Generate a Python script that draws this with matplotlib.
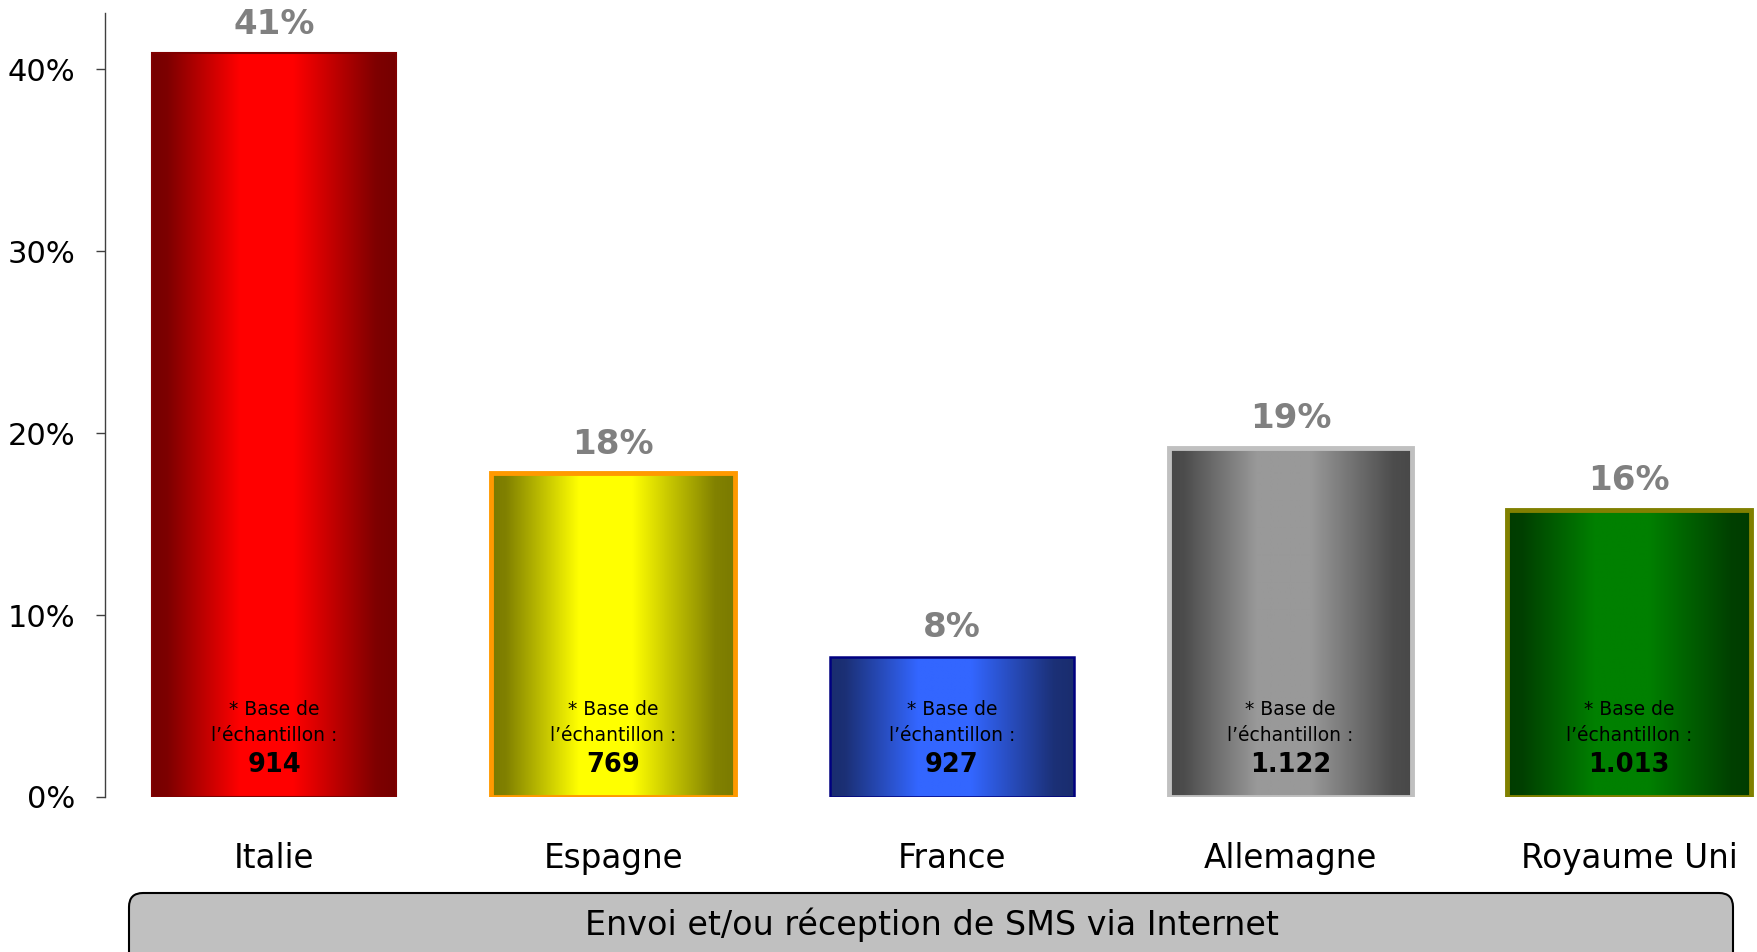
import numpy as np
import matplotlib
matplotlib.use("Agg")
import matplotlib.pyplot as plt
from matplotlib.patches import FancyBboxPatch
from matplotlib.transforms import IdentityTransform
from matplotlib.colors import to_rgb

# ---- data -------------------------------------------------------------
countries = ["Italie", "Espagne", "France", "Allemagne", "Royaume Uni"]
shares    = [40.9, 17.8, 7.7, 19.2, 15.8]          # % of respondents
bases     = ["914", "769", "927", "1.122", "1.013"]  # sample sizes
yticks    = [0, 10, 20, 30, 40]
caption   = "Envoi et/ou réception de SMS via Internet"

# ---- style ------------------------------------------------------------
# (dark edge colour, bright centre colour, border colour, border width)
BAR_STYLE = [
    ("#760000", "#ff0000", "#800000", 1.5),
    ("#7a7a00", "#ffff00", "#ff9900", 3.5),
    ("#1a2d6e", "#3366ff", "#000080", 1.8),
    ("#484848", "#999999", "#c0c0c0", 3.5),
    ("#003c00", "#008000", "#808000", 3.5),
]
GRAY_LABEL = "#808080"

plt.rcParams["font.family"] = ["DejaVu Sans"]

W, H, DPI = 1758, 952, 100
fig = plt.figure(figsize=(W / DPI, H / DPI), dpi=DPI)
fig.patch.set_facecolor("white")

ax_l, ax_b, ax_t = 105 / W, 1 - 797 / H, 1 - 13 / H
ax = fig.add_axes([ax_l, ax_b, 1 - ax_l, ax_t - ax_b])

x = np.arange(len(countries))
width = 0.72

# horizontal shading profile: dark edges, bright centre
prof_x = np.linspace(0, 1, 256)
prof = np.interp(prof_x, [0, 0.06, 0.36, 0.58, 0.92, 1.0],
                         [0.0, 0.05, 1.0, 1.0, 0.06, 0.0])

bars = ax.bar(x, shares, width=width, zorder=2)
for bar, (dark, bright, edge, lw), share, base in zip(bars, BAR_STYLE, shares, bases):
    d, b = np.array(to_rgb(dark)), np.array(to_rgb(bright))
    grad = (d[None, :] + prof[:, None] * (b - d)[None, :])[None, :, :]
    x0 = bar.get_x()
    x1 = x0 + bar.get_width()
    bar.set_facecolor("none")
    bar.set_edgecolor(edge)
    bar.set_linewidth(lw)
    bar.set_zorder(3)
    im = ax.imshow(grad, extent=(x0, x1, 0, share), aspect="auto",
                   origin="lower", zorder=2, interpolation="bilinear")
    im.set_clip_path(bar)

    cx = x0 + bar.get_width() / 2
    ax.annotate(f"{round(share)}%", (cx, share), xytext=(0, 9),
                textcoords="offset points", ha="center", va="bottom",
                fontsize=24.5, fontweight="bold", color=GRAY_LABEL)
    ax.text(cx, 4.8, "* Base de", ha="center", va="center", fontsize=13.5, zorder=4)
    ax.text(cx, 3.4, "l’échantillon :", ha="center", va="center", fontsize=13.5, zorder=4)
    ax.text(cx, 1.75, base, ha="center", va="center", fontsize=18.5,
            fontweight="bold", zorder=4)

for xi, name in zip(x, countries):
    ax.annotate(name, (xi, 0), xycoords=("data", "axes fraction"),
                xytext=(0, -44), textcoords="offset points",
                ha="center", va="center", fontsize=23.5)

ax.set_xlim(-0.5, 4.38)
ax.set_ylim(0, 43.1)
ax.set_xticks([])
ax.set_yticks(yticks)
ax.set_yticklabels([f"{t}%" for t in yticks], fontsize=22)
ax.tick_params(axis="y", direction="out", length=6.5, width=1, color="#404040", pad=15)
for s in ["top", "right", "bottom"]:
    ax.spines[s].set_visible(False)
ax.spines["left"].set_color("#404040")
ax.spines["left"].set_linewidth(1)
ax.set_facecolor("none")

# caption box at the bottom (pixel coordinates)
box = FancyBboxPatch((129, -30), 1733 - 129, 952 - 893 + 30,
                     boxstyle="round,pad=0,rounding_size=14",
                     transform=IdentityTransform(), facecolor="#c0c0c0",
                     edgecolor="black", linewidth=1.5)
fig.add_artist(box)
fig.text(932 / W, 27 / H, caption, ha="center", va="center", fontsize=24)

fig.savefig("out.png", dpi=DPI)
